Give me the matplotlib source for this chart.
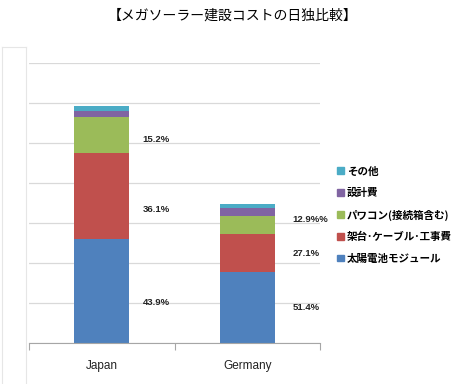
import numpy as np
import matplotlib
matplotlib.use("Agg")
import matplotlib.pyplot as plt
from matplotlib.lines import Line2D
from matplotlib.patches import Patch

plt.rcParams['font.family'] = ['Noto Sans CJK JP', 'DejaVu Sans']

# --- data (gridline step = 10) ---
countries = ["Japan", "Germany"]
series = ["太陽電池モジュール", "架台･ケーブル･工事費", "パワコン(接続箱含む)", "設計費", "その他"]
module = [26.0, 17.8]
mount = [21.4, 9.4]
pcs = [9.0, 4.5]
design = [1.7, 2.0]
other = [1.2, 1.0]
colors = ["#4F81BD", "#C0504D", "#9BBB59", "#8064A2", "#4BACC6"]

# data labels and where they sit (y in data units)
japan_labels = ["43.9%", "36.1%", "15.2%"]
japan_label_y = [10.2, 33.5, 51.0]
germany_labels = ["51.4%", "27.1%", "12.9%%"]
germany_label_y = [9.0, 22.5, 30.8]

fig = plt.figure(figsize=(4.55, 3.84), dpi=100)
ax = fig.add_axes([29/455, 1 - 343/384, 291/455, 280/384])

x = np.arange(len(countries))
bottom = np.zeros(len(countries))
for vals, c, name in zip([module, mount, pcs, design, other], colors, series):
    ax.bar(x, vals, 0.38, bottom=bottom, color=c, label=name, zorder=3)
    bottom += np.array(vals)

for txt, yy in zip(japan_labels, japan_label_y):
    ax.text(0 + 0.28, yy, txt, fontsize=6.8, fontweight='bold',
            family='Liberation Sans', va='center', ha='left', color='#222222')
for txt, yy in zip(germany_labels, germany_label_y):
    ax.text(1 + 0.31, yy, txt, fontsize=6.8, fontweight='bold',
            family='Liberation Sans', va='center', ha='left', color='#222222',
            clip_on=False)

ax.set_xlim(-0.5, 1.5)
ax.set_ylim(0, 70)
ax.set_yticks(np.arange(0, 71, 10))
ax.yaxis.grid(True, color='#d9d9d9', lw=0.9, zorder=0)
ax.tick_params(axis='y', left=False, labelleft=False)
for s in ['left', 'right', 'top']:
    ax.spines[s].set_visible(False)
ax.spines['bottom'].set_color('#a6a6a6')
ax.spines['bottom'].set_zorder(4)

ax.set_xticks([-0.5, 0.5, 1.5])
ax.set_xticklabels([])
ax.tick_params(axis='x', length=5, color='#a6a6a6', direction='out')
for xi, name in zip(x, countries):
    ax.text(xi, -4.3, name, ha='center', va='top', fontsize=8.5,
            family='Liberation Sans', color='#222222')

fig.text(233/455, 1 - 16/384, "【メガソーラー建設コストの日独比較】",
         ha='center', va='center', fontsize=10)

handles = [Patch(color=c) for c in colors][::-1]
fig.legend(handles, series[::-1], loc='center left',
           bbox_to_anchor=(333/455, 1 - 215/384), frameon=False,
           prop={'weight': 'bold', 'size': 7.6}, handlelength=0.6,
           handleheight=0.6, handletextpad=0.3, labelspacing=1.08,
           borderaxespad=0)

# faint chart-area frame on the left
fig.add_artist(Line2D([26/455, 26/455], [0, 1 - 47/384], color='#e6e6e6', lw=0.8))
fig.add_artist(Line2D([2/455, 26/455], [1 - 47/384, 1 - 47/384], color='#e6e6e6', lw=0.8))
fig.add_artist(Line2D([2/455, 2/455], [0, 1 - 47/384], color='#e6e6e6', lw=0.8))

fig.savefig("out.png", dpi=100)
